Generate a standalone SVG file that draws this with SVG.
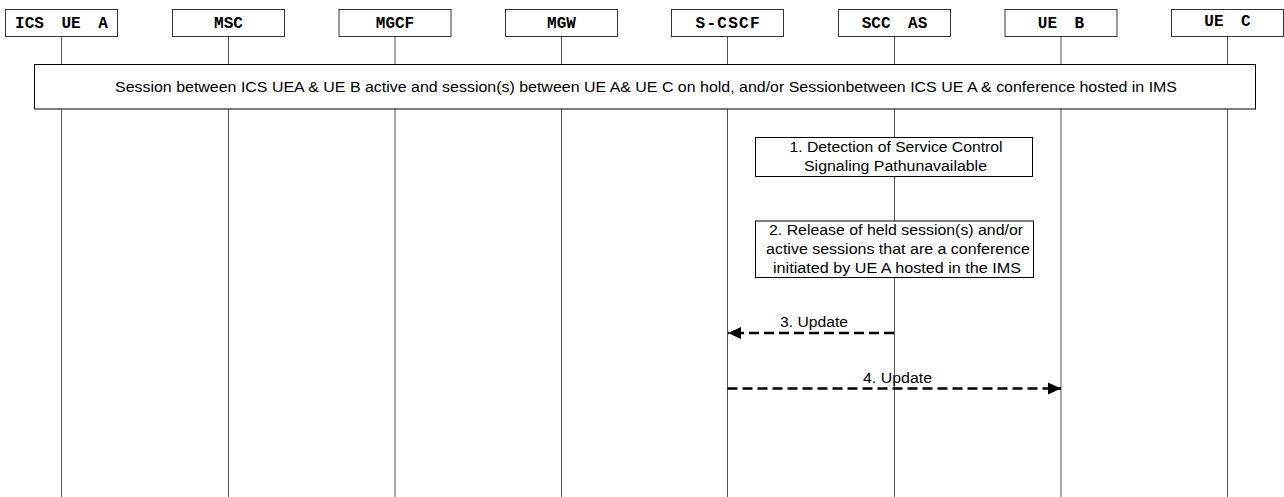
<svg xmlns="http://www.w3.org/2000/svg" width="1284" height="497" viewBox="0 0 1284 497">
<style>
.hdr{fill:#fff;stroke:#333;stroke-width:1}
.hdrt{font-family:"Liberation Mono","Courier New",monospace;font-weight:bold;font-size:16px;fill:#000;text-anchor:middle;word-spacing:8px}
.life{stroke:#555;stroke-width:1}
.box{fill:#fff;stroke:#000;stroke-width:1}
.lbl{font-family:"Liberation Sans",Arial,sans-serif;font-size:15.5px;fill:#000;text-anchor:middle}
.msg{stroke:#000;stroke-width:2.5;stroke-dasharray:10,5;fill:none}
</style>
<defs>
<marker id="ah" markerUnits="userSpaceOnUse" markerWidth="14" markerHeight="14" viewBox="0 0 14 14" refX="13" refY="7" orient="auto">
<path d="M0,1 L13,7 L0,13 Z" fill="#000"/>
</marker>
</defs>
<rect width="1284" height="497" fill="#fff"/>
<g id="lifelines">
<line class="life" x1="61.5" y1="37" x2="61.5" y2="497"/>
<line class="life" x1="228.5" y1="37" x2="228.5" y2="497"/>
<line class="life" x1="395" y1="37" x2="395" y2="497"/>
<line class="life" x1="561.5" y1="37" x2="561.5" y2="497"/>
<line class="life" x1="727.5" y1="37" x2="727.5" y2="497"/>
<line class="life" x1="894.5" y1="37" x2="894.5" y2="497"/>
<line class="life" x1="1061" y1="37" x2="1061" y2="497"/>
<line class="life" x1="1227.5" y1="37" x2="1227.5" y2="497"/>
</g>
<g id="node-ics-ue-a"><rect class="hdr" x="5.5" y="9.5" width="112" height="27"/><text class="hdrt" x="61.5" y="27.5">ICS UE A</text></g>
<g id="node-msc"><rect class="hdr" x="172.5" y="9.5" width="112" height="27"/><text class="hdrt" x="228.5" y="27.5">MSC</text></g>
<g id="node-mgcf"><rect class="hdr" x="339" y="9.5" width="112" height="27"/><text class="hdrt" x="395" y="27.5">MGCF</text></g>
<g id="node-mgw"><rect class="hdr" x="505.5" y="9.5" width="112" height="27"/><text class="hdrt" x="561.5" y="27.5">MGW</text></g>
<g id="node-s-cscf"><rect class="hdr" x="671.5" y="9.5" width="112" height="27"/><text class="hdrt" x="727.5" y="27.5" textLength="64" lengthAdjust="spacing">S-CSCF</text></g>
<g id="node-scc-as"><rect class="hdr" x="838.5" y="9.5" width="112" height="27"/><text class="hdrt" x="894.5" y="27.5">SCC AS</text></g>
<g id="node-ue-b"><rect class="hdr" x="1005" y="9.5" width="112" height="27"/><text class="hdrt" x="1061" y="27.5">UE B</text></g>
<g id="node-ue-c"><rect class="hdr" x="1171.5" y="9.5" width="112" height="27"/><text class="hdrt" x="1227.5" y="26">UE C</text></g>
<g id="session-banner"><rect class="box" x="34.5" y="64.5" width="1221" height="44.5"/><text class="lbl" x="646" y="91.5" textLength="1062" lengthAdjust="spacingAndGlyphs">Session between ICS UEA &amp; UE B active and session(s) between UE A&amp; UE C on hold, and/or Sessionbetween ICS UE A &amp; conference hosted in IMS</text></g>
<g id="step-1"><rect class="box" x="755.5" y="137.5" width="277" height="39"/><text class="lbl" x="896" y="152" textLength="213" lengthAdjust="spacingAndGlyphs">1. Detection of Service Control</text><text class="lbl" x="895.5" y="171" textLength="183" lengthAdjust="spacingAndGlyphs">Signaling Pathunavailable</text></g>
<g id="step-2"><rect class="box" x="755.5" y="221" width="278" height="56.5"/><text class="lbl" x="896" y="235" textLength="254" lengthAdjust="spacingAndGlyphs">2. Release of held session(s) and/or</text><text class="lbl" x="898" y="254" textLength="264" lengthAdjust="spacingAndGlyphs">active sessions that are a conference</text><text class="lbl" x="897" y="273" textLength="248" lengthAdjust="spacingAndGlyphs">initiated by UE A hosted in the IMS</text></g>
<g id="connectors">
<line class="msg" x1="894" y1="333" x2="728" y2="333" marker-end="url(#ah)"/>
<text class="lbl" x="814" y="327" textLength="68" lengthAdjust="spacingAndGlyphs">3. Update</text>
<line class="msg" x1="727.5" y1="388.5" x2="1061" y2="388.5" marker-end="url(#ah)"/>
<text class="lbl" x="897.5" y="383" textLength="69" lengthAdjust="spacingAndGlyphs">4. Update</text>
</g>
</svg>
